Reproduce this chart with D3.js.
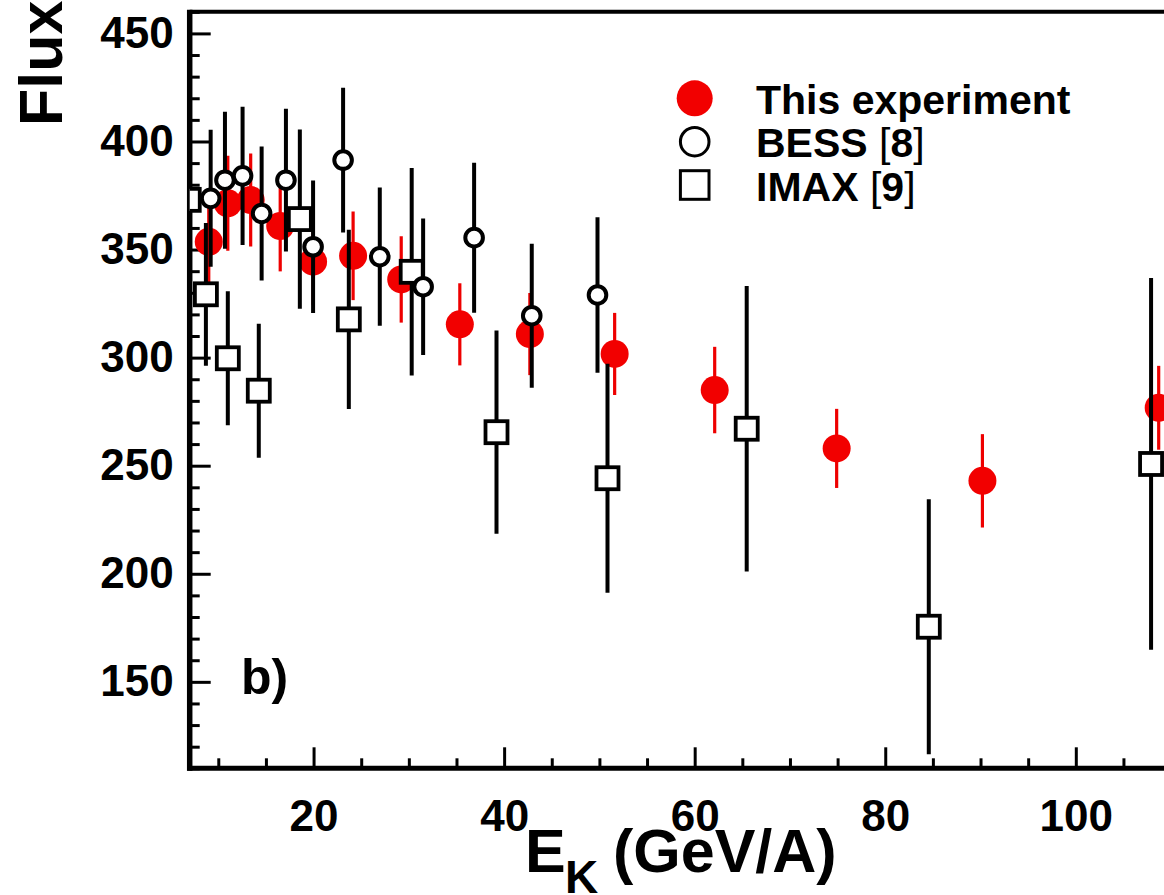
<!DOCTYPE html>
<html><head><meta charset="utf-8">
<script src="https://cdn.jsdelivr.net/npm/d3@7/dist/d3.min.js"></script>
<style>
body{margin:0;background:#fff}
svg{display:block}
text{font-family:"Liberation Sans",Arial,Helvetica,sans-serif;font-weight:bold;fill:#000}
</style>
</head><body>
<svg id="chart" width="1164" height="895"></svg>
<script>
// ---- data ----
const expX   = [9.0, 11.0, 13.4, 16.5, 19.95, 24.15, 29.2, 35.35, 42.7, 51.6, 62.1, 74.9, 90.2, 108.7];
const expY   = [353.6, 371.4, 372.9, 360.9, 344.4, 347.1, 336.2, 315.4, 310.9, 301.7, 285.0, 258.0, 243.0, 276.8];
const expErr = [21, 22, 21.5, 21, 20, 20.5, 20, 19, 19, 19, 20, 18.3, 21.6, 19.4];

const bessX   = [9.2, 10.7, 12.55, 14.55, 17.1, 19.95, 23.1, 26.95, 31.5, 36.85, 42.9, 49.8];
const bessY   = [373.7, 382.1, 384.1, 366.7, 382.1, 351.3, 391.4, 346.7, 332.8, 355.5, 319.4, 329.0];
const bessErr = [31.7, 31.7, 32, 31, 33, 30.6, 33.5, 32, 31.6, 34.7, 33.3, 36];

const imaxX   = [6.9, 8.7, 11.0, 14.25, 18.56, 23.7, 30.3, 39.2, 50.85, 65.46, 84.57, 107.9];
const imaxY   = [373, 329.3, 299.7, 284.7, 364.1, 317.7, 339.7, 265.5, 244.2, 267.1, 175.5, 250.8];
const imaxErr = [22, 33, 31, 31, 41.5, 41.5, 48, 47, 53, 66, 59, 86];

const xMajor = [20, 40, 60, 80, 100];
const yMajor = [150, 200, 250, 300, 350, 400, 450];
const xMinor = d3.range(10, 112, 5);
const yMinor = d3.range(110, 461, 10);

const legendLabels = [
  {name: "This experiment", ref: null},
  {name: "BESS ", ref: "8"},
  {name: "IMAX ", ref: "9"}
];

// ---- layout ----
const svg = d3.select("#chart");
const L = 189.7, B = 768.3, T = 11.8;
const x = d3.scaleLinear().domain([7, 112]).range([L, L + 105 * 9.528]);
const y = d3.scaleLinear().domain([110, 460]).range([B, T]);

svg.append("defs").append("clipPath").attr("id", "clip")
  .append("rect").attr("x", L).attr("y", T).attr("width", 1200).attr("height", B - T);

// axes
const gx = svg.append("g").attr("transform", `translate(0,${B})`)
  .call(d3.axisBottom(x).tickValues(xMajor).tickSize(-21).tickPadding(31).tickFormat(d3.format("d")));
const gxm = svg.append("g").attr("transform", `translate(0,${B})`)
  .call(d3.axisBottom(x).tickValues(xMinor.filter(v => !xMajor.includes(v))).tickSize(-10).tickFormat(""));
const gy = svg.append("g").attr("transform", `translate(${L},0)`)
  .call(d3.axisLeft(y).tickValues(yMajor).tickSize(-21).tickPadding(16).tickFormat(d3.format("d")));
const gym = svg.append("g").attr("transform", `translate(${L},0)`)
  .call(d3.axisLeft(y).tickValues(yMinor.filter(v => !yMajor.includes(v))).tickSize(-10).tickFormat(""));
[gx, gxm, gy, gym].forEach(g => {
  g.select(".domain").remove();
  g.selectAll(".tick line").attr("stroke", "#000").attr("stroke-width", 3);
  g.selectAll(".tick text").style("font-size", "44px").style("font-family", "'Liberation Sans',Arial,sans-serif").style("font-weight", "bold").attr("fill", "#000");
});

// frame lines
svg.append("line").attr("x1", L).attr("x2", 1200).attr("y1", T).attr("y2", T).attr("stroke", "#000").attr("stroke-width", 4);
svg.append("line").attr("x1", L).attr("x2", L).attr("y1", T - 2).attr("y2", B + 2.5).attr("stroke", "#000").attr("stroke-width", 5.5);
svg.append("line").attr("x1", L - 2.5).attr("x2", 1200).attr("y1", B).attr("y2", B).attr("stroke", "#000").attr("stroke-width", 5);

const plot = svg.append("g").attr("clip-path", "url(#clip)");

function rows(xs, ys, es) { return xs.map((v, i) => ({x: v, y: ys[i], e: es[i]})); }

// This experiment (red)
const exp = rows(expX, expY, expErr);
plot.append("g").selectAll("line").data(exp).join("line")
  .attr("x1", d => x(d.x)).attr("x2", d => x(d.x))
  .attr("y1", d => y(d.y + d.e)).attr("y2", d => y(d.y - d.e))
  .attr("stroke", "#ee0000").attr("stroke-width", 3.2);
plot.append("g").selectAll("circle").data(exp).join("circle")
  .attr("cx", d => x(d.x)).attr("cy", d => y(d.y)).attr("r", 14)
  .attr("fill", "#f20000");

// IMAX (open squares)
const imax = rows(imaxX, imaxY, imaxErr);
plot.append("g").selectAll("line").data(imax).join("line")
  .attr("x1", d => x(d.x)).attr("x2", d => x(d.x))
  .attr("y1", d => y(d.y + d.e)).attr("y2", d => y(d.y - d.e))
  .attr("stroke", "#000").attr("stroke-width", 4);
plot.append("g").selectAll("rect").data(imax).join("rect")
  .attr("x", d => x(d.x) - 11).attr("y", d => y(d.y) - 11).attr("width", 22).attr("height", 22)
  .attr("fill", "#fff").attr("stroke", "#000").attr("stroke-width", 3.8);

// BESS (open circles)
const bess = rows(bessX, bessY, bessErr);
plot.append("g").selectAll("line").data(bess).join("line")
  .attr("x1", d => x(d.x)).attr("x2", d => x(d.x))
  .attr("y1", d => y(d.y + d.e)).attr("y2", d => y(d.y - d.e))
  .attr("stroke", "#000").attr("stroke-width", 4);
plot.append("g").selectAll("circle").data(bess).join("circle")
  .attr("cx", d => x(d.x)).attr("cy", d => y(d.y)).attr("r", 8.8)
  .attr("fill", "#fff").attr("stroke", "#000").attr("stroke-width", 4);

// panel label
svg.append("text").attr("x", 241).attr("y", 694).style("font-size", "50px").text("b)");

// axis titles
svg.append("text").attr("transform", "translate(62,126) rotate(-90)")
  .style("font-size", "61px").text("Flux");
const xt = svg.append("text").attr("x", 525).attr("y", 872).style("font-size", "61px");
xt.append("tspan").text("E");
xt.append("tspan").attr("x", 565).attr("y", 893).style("font-size", "46px").text("K");
xt.append("tspan").attr("x", 613).attr("y", 872).text("(GeV/A)");

// legend
const lg = svg.append("g");
const ly = [98.3, 141.7, 185];
lg.append("circle").attr("cx", 694.7).attr("cy", ly[0]).attr("r", 18).attr("fill", "#f20000");
lg.append("circle").attr("cx", 694.7).attr("cy", ly[1]).attr("r", 14.3).attr("fill", "#fff").attr("stroke", "#000").attr("stroke-width", 3);
lg.append("rect").attr("x", 694.7 - 14.3).attr("y", ly[2] - 14.3).attr("width", 28.6).attr("height", 28.6)
  .attr("fill", "#fff").attr("stroke", "#000").attr("stroke-width", 3);
legendLabels.forEach((d, i) => {
  const t = lg.append("text").attr("x", 756).attr("y", ly[i] + 15.5).style("font-size", "41px");
  t.append("tspan").text(d.name);
  if (d.ref) {
    t.append("tspan").style("font-weight", "normal").text("[");
    t.append("tspan").text(d.ref);
    t.append("tspan").style("font-weight", "normal").text("]");
  }
});
</script>
</body></html>
